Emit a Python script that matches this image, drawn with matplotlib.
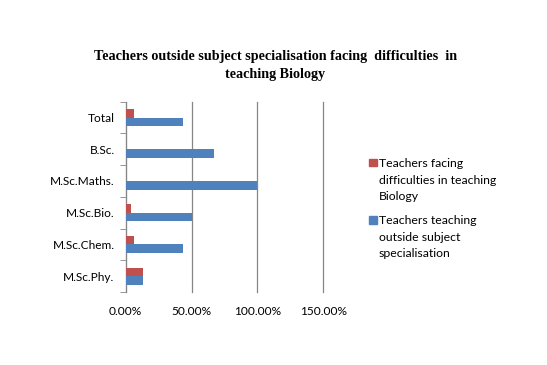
import matplotlib
matplotlib.use('Agg')
import matplotlib.pyplot as plt
import numpy as np

categories = ['M.Sc.Phy.', 'M.Sc.Chem.', 'M.Sc.Bio.', 'M.Sc.Maths.', 'B.Sc.', 'Total']
outside_spec = [13.33, 43.33, 50.0, 100.0, 66.67, 43.33]
difficulties = [13.33, 6.67, 4.17, 0.0, 0.0, 6.67]
xticks = [0, 50, 100, 150]
legend_labels = ['Teachers facing\ndifficulties in teaching\nBiology',
                 'Teachers teaching\noutside subject\nspecialisation']

blue = '#4F81BD'
red = '#C0504D'
grid_col = '#868686'

W, H = 547, 365
fig = plt.figure(figsize=(5.47, 3.65), dpi=100)
ax = fig.add_axes([0.2298, 0.2, 0.3613, 0.5214])

y = np.arange(len(categories))
h = 0.27
ax.barh(y - h / 2, outside_spec, height=h, color=blue, zorder=3)
ax.barh(y + h / 2, difficulties, height=h, color=red, zorder=3)

ax.set_xlim(0, 150)
ax.set_ylim(-0.5, len(categories) - 0.5)
ax.set_xticks(xticks)
ax.set_xticklabels([f'{v:.2f}%' for v in xticks], family='Lato', fontsize=8.6)
ax.set_yticks(y)
ax.set_yticklabels(categories, family='Lato', fontsize=8.6)
ax.set_yticks(np.arange(-0.5, len(categories), 1), minor=True)
ax.tick_params(axis='y', which='major', length=0, pad=8)
ax.tick_params(axis='y', which='minor', length=4, color=grid_col, direction='out')
ax.tick_params(axis='x', length=0, pad=10)
ax.xaxis.grid(True, color=grid_col, linewidth=0.9, zorder=0)
for gl in ax.get_xgridlines():
    gl.set_clip_on(False)
for s in ['top', 'right', 'bottom']:
    ax.spines[s].set_visible(False)
ax.spines['left'].set_color(grid_col)

fig.text(0.503, 0.82, 'Teachers outside subject specialisation facing  difficulties  in\nteaching Biology',
         ha='center', va='center', family='Liberation Serif', fontweight='bold', fontsize=10.2,
         linespacing=1.45)

# legend drawn by hand so the swatch lines up with the first text line
for i, (lab, col) in enumerate(zip(legend_labels, [red, blue])):
    top = 159 + i * 57
    fig.patches.append(plt.Rectangle((369 / W, 1 - (top + 7.5) / H), 7.5 / W, 7.5 / H,
                                     color=col, transform=fig.transFigure, figure=fig))
    fig.text(379 / W, 1 - (top - 1) / H, lab, ha='left', va='top', family='Lato',
             fontsize=8.8, linespacing=1.62)

fig.savefig('out.png', dpi=100)
